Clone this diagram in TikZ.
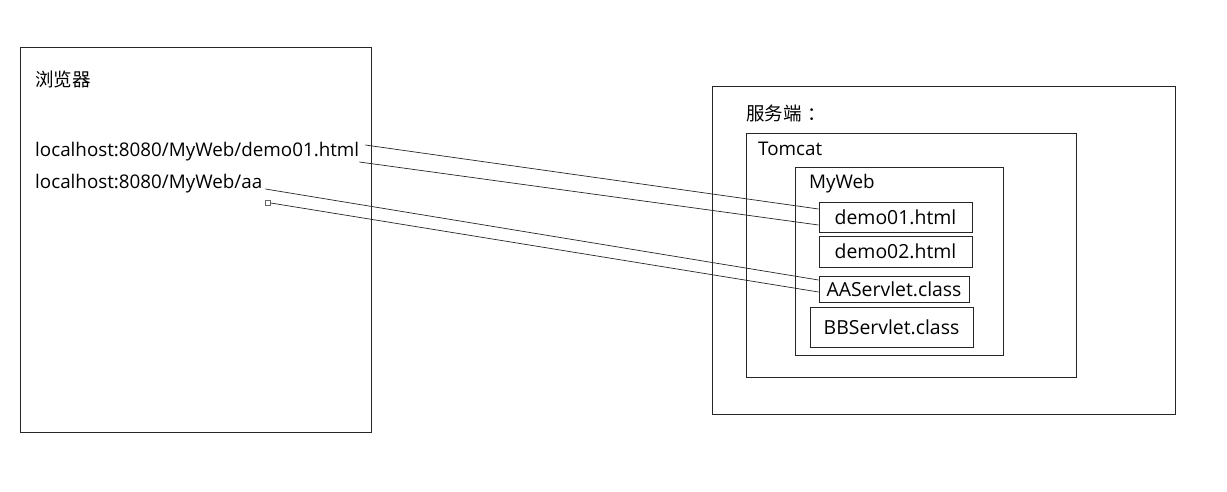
\documentclass[tikz,border=0pt]{standalone}
\usepackage{fontspec}
\setmainfont{Open Sans}
\newfontfamily\cjk{Noto Sans CJK SC}
\begin{document}
\begin{tikzpicture}[x=1pt,y=-1pt,
    box/.style={draw=black!85,line width=0.9pt,anchor=north west,inner sep=0pt},
    file/.style={draw=black!85,line width=0.9pt,inner sep=0pt,font=\fontsize{19.4}{22}\selectfont},
    lbl/.style={anchor=west,inner sep=0pt,font=\fontsize{18.8}{22}\selectfont},
    wire/.style={black!85,line width=0.7pt}]
    \useasboundingbox (0,0) rectangle (1227,491);
    % browser side
    \node[box,minimum width=351pt,minimum height=385pt] (browser) at (20,47) {};
    \node[lbl,font=\cjk\fontsize{18.5}{22}\selectfont] (browsertitle) at (35,79) {浏览器};
    \node[lbl] (url1) at (35,152) {localhost:8080/MyWeb/demo01.html};
    \node[lbl] (url2) at (35,184) {localhost:8080/MyWeb/aa};
    \node[draw=black!60,fill=white,line width=0.6pt,minimum size=5pt,inner sep=0pt] (handle) at (268,203) {};
    % server side
    \node[box,minimum width=463pt,minimum height=328pt] (server) at (712,86) {};
    \node[lbl,font=\cjk\fontsize{18.5}{22}\selectfont] (servertitle) at (746,113) {服务端\hspace{0.3em}：};
    \node[box,minimum width=330pt,minimum height=244pt] (tomcat) at (746,133) {};
    \node[lbl] (tomcattitle) at (758,149) {Tomcat};
    \node[box,minimum width=208pt,minimum height=188pt] (myweb) at (795,167) {};
    \node[lbl] (mywebtitle) at (809,184) {MyWeb};
    \node[file,minimum width=153pt,minimum height=30pt] (demo01) at (895.5,217) {demo01.html};
    \node[file,minimum width=153pt,minimum height=31pt] (demo02) at (895.5,251.5) {demo02.html};
    \node[file,minimum width=150pt,minimum height=26pt] (aaservlet) at (894,289) {AAServlet.class};
    \node[file,minimum width=163pt,minimum height=40pt] (bbservlet) at (891.5,327) {BBServlet.class};
    % requests
    \draw[wire] ([xshift=6pt,yshift=7pt]url1.east) -- ([yshift=8pt]demo01.west);
    \draw[wire] ([yshift=-10pt]url1.east) -- ([yshift=-8pt]demo01.west);
    \draw[wire] ([xshift=3pt,yshift=-5pt]url2.east) -- ([yshift=9pt]aaservlet.west);
    \draw[wire] (handle.east) -- ([yshift=-3pt]aaservlet.west);
\end{tikzpicture}
\end{document}
